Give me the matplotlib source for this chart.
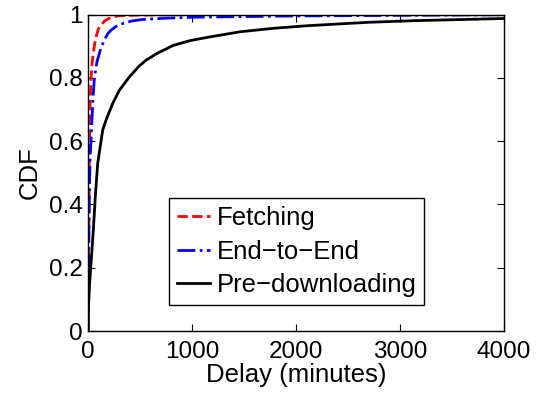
import matplotlib
matplotlib.use("Agg")
import matplotlib.pyplot as plt

plt.rcParams['font.family'] = ['Liberation Sans', 'DejaVu Sans']

# Data (delay in minutes, CDF)
fetch_x = [0, 3, 8, 14, 20, 29, 40, 51, 65, 77, 100, 125, 160, 200, 237, 300, 500, 1000, 2000, 4000]
fetch_y = [0.0, 0.15, 0.35, 0.6, 0.72, 0.80, 0.85, 0.878, 0.91, 0.93, 0.955, 0.967, 0.98, 0.988, 0.993, 0.997, 0.999, 1.0, 1.0, 1.0]

e2e_x = [0, 3, 8, 15, 22, 29, 45, 61, 85, 109, 130, 157, 190, 221, 270, 334, 420, 525, 750, 1000, 1500, 2000, 3000, 4000]
e2e_y = [0.0, 0.12, 0.3, 0.48, 0.56, 0.6, 0.72, 0.80, 0.85, 0.878, 0.90, 0.92, 0.94, 0.951, 0.963, 0.972, 0.98, 0.985, 0.989, 0.992, 0.994, 0.996, 0.998, 1.0]

pre_x = [0, 5, 15, 29, 51, 70, 93, 141, 173, 237, 301, 397, 493, 558, 660, 820, 981, 1141, 1462, 1782, 2103, 2423, 2700, 3125, 3500, 4000]
pre_y = [0.0, 0.08, 0.15, 0.215, 0.319, 0.424, 0.53, 0.635, 0.667, 0.719, 0.761, 0.803, 0.838, 0.856, 0.877, 0.903, 0.918, 0.928, 0.946, 0.957, 0.965, 0.971, 0.976, 0.981, 0.984, 0.988]

x_ticks = [0, 1000, 2000, 3000, 4000]
y_ticks = [0, 0.2, 0.4, 0.6, 0.8, 1.0]
y_tick_labels = ['0', '0.2', '0.4', '0.6', '0.8', '1']

fig = plt.figure(figsize=(5.44, 3.95), dpi=100)
ax = fig.add_axes([0.1618, 0.162, 0.9265 - 0.1618, 0.9628 - 0.162])

ax.plot(fetch_x, fetch_y, color='#ff0000', linestyle='--', linewidth=2, label='Fetching')
ax.plot(e2e_x, e2e_y, color='#0000ff', linestyle='-.', linewidth=2, label='End\u2212to\u2212End')
ax.plot(pre_x, pre_y, color='black', linestyle='-', linewidth=2, label='Pre\u2212downloading')

ax.set_xlim(0, 4000)
ax.set_ylim(0, 1)
ax.set_xticks(x_ticks)
ax.set_xticklabels([str(t) for t in x_ticks])
ax.set_yticks(y_ticks)
ax.set_yticklabels(y_tick_labels)
ax.tick_params(direction='in', top=True, right=True, length=5, width=0.8, labelsize=17.5)
ax.tick_params(axis='x', pad=7)
ax.tick_params(axis='y', pad=4)
for s in ax.spines.values():
    s.set_linewidth(1.0)

ax.set_xlabel('Delay (minutes)', fontsize=18.5, labelpad=0)
ax.set_ylabel('CDF', fontsize=18.5, labelpad=5)

leg = ax.legend(loc='lower left', bbox_to_anchor=(0.195, 0.082), borderaxespad=0,
                fontsize=18.5, handlelength=1.3, handletextpad=0.25, labelspacing=0.38,
                borderpad=0.3, fancybox=False, framealpha=1, edgecolor='black')
leg.get_frame().set_linewidth(1.0)

fig.savefig('out.png', dpi=100)
